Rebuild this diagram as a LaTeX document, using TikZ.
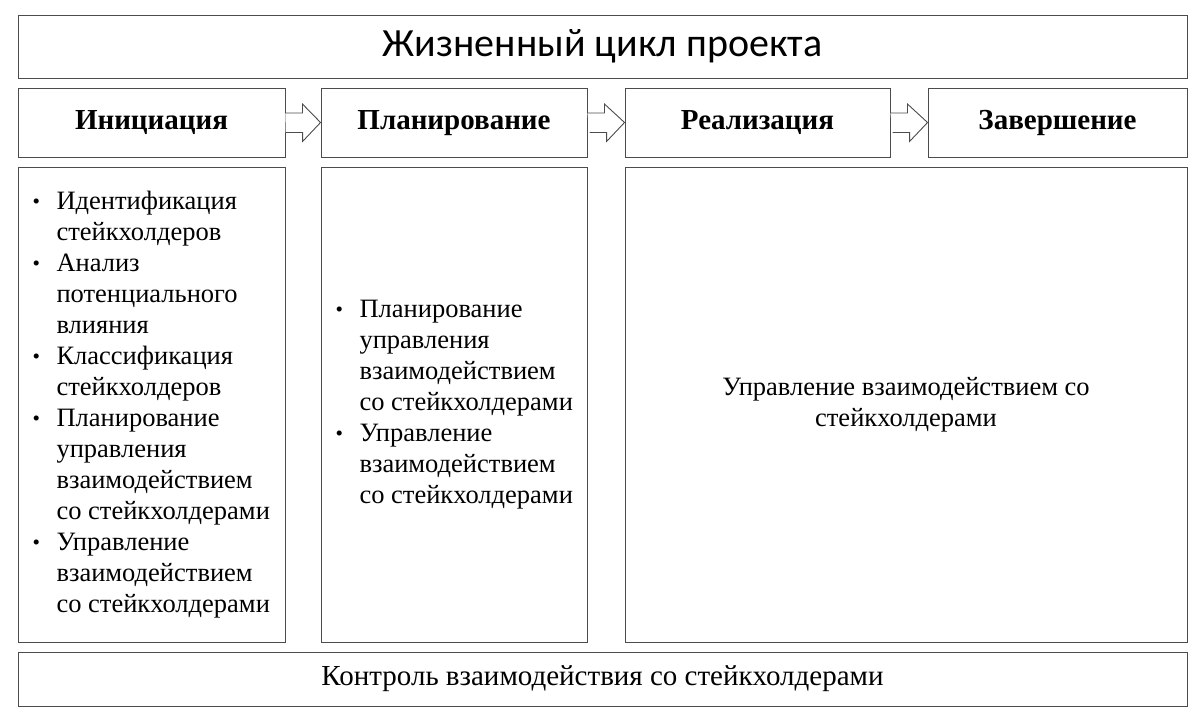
\documentclass[tikz,border=0pt]{standalone}
\usepackage{fontspec}
\setmainfont{Liberation Serif}
\newfontfamily\titlefont{Carlito}
\usetikzlibrary{positioning}
\tikzset{
  box/.style={draw=black!70, line width=0.9pt, fill=white, inner sep=0pt},
  phase/.style={box, minimum height=69pt, text height=20pt, text depth=6pt, font=\fontsize{29}{33}\selectfont\bfseries},
  items/.style={align=left, font=\fontsize{26.5}{31}\selectfont}
}
\newcommand{\blt}[1]{\makebox[24pt][l]{\raisebox{1pt}{\scalebox{0.8}{\textbullet}}}#1}
\newcommand{\cnt}[1]{\hspace*{24pt}#1}
\begin{document}
\begin{tikzpicture}[x=1pt,y=-1pt]
  \useasboundingbox (0,0) rectangle (1200,724);
  % header
  \node[box, minimum width=1169pt, minimum height=63pt, font=\titlefont\fontsize{40}{44}\selectfont] (title) at (602.5,46.5) {Жизненный цикл проекта};
  % phases
  \node[phase, minimum width=267pt] (init) at (151.5,122.5) {Инициация};
  \node[phase, minimum width=266pt] (plan) at (454,122.5) {Планирование};
  \node[phase, minimum width=265pt] (real) at (757.5,122.5) {Реализация};
  \node[phase, minimum width=259pt] (fin) at (1057.5,122.5) {Завершение};
  % block arrows
  \foreach \a/\b in {init/plan, plan/real, real/fin}{
    \draw[black!70, line width=0.9pt, fill=white]
      (\a.east |- 0,113) -- ++(17,0) -- ++(0,-9) -- (\b.west) -- ++(-18,19) -- ++(0,-9) -- ++(-17,0);
  }
  % content
  \node[box, minimum width=267pt, minimum height=475pt] (initbox) at (151.5,404.5) {};
  \node[box, minimum width=266pt, minimum height=475pt] (planbox) at (454,404.5) {};
  \node[box, minimum width=562pt, minimum height=475pt] (realbox) at (906,404.5) {};
  \node[items, anchor=west] (initlist) at (29,404.5) {%
    \blt{Идентификация}\\ \cnt{стейкхолдеров}\\
    \blt{Анализ}\\ \cnt{потенциального}\\ \cnt{влияния}\\
    \blt{Классификация}\\ \cnt{стейкхолдеров}\\
    \blt{Планирование}\\ \cnt{управления}\\ \cnt{взаимодействием}\\ \cnt{со стейкхолдерами}\\
    \blt{Управление}\\ \cnt{взаимодействием}\\ \cnt{со стейкхолдерами}};
  \node[items, anchor=west] (planlist) at (332,404.5) {%
    \blt{Планирование}\\ \cnt{управления}\\ \cnt{взаимодействием}\\ \cnt{со стейкхолдерами}\\
    \blt{Управление}\\ \cnt{взаимодействием}\\ \cnt{со стейкхолдерами}};
  \node[items, align=center] (reallist) at (906,404.5) {Управление взаимодействием со\\ стейкхолдерами};
  % control
  \node[box, minimum width=1169pt, minimum height=54pt, font=\fontsize{29}{33}\selectfont] (ctrl) at (602.5,679) {Контроль взаимодействия со стейкхолдерами};
\end{tikzpicture}
\end{document}
